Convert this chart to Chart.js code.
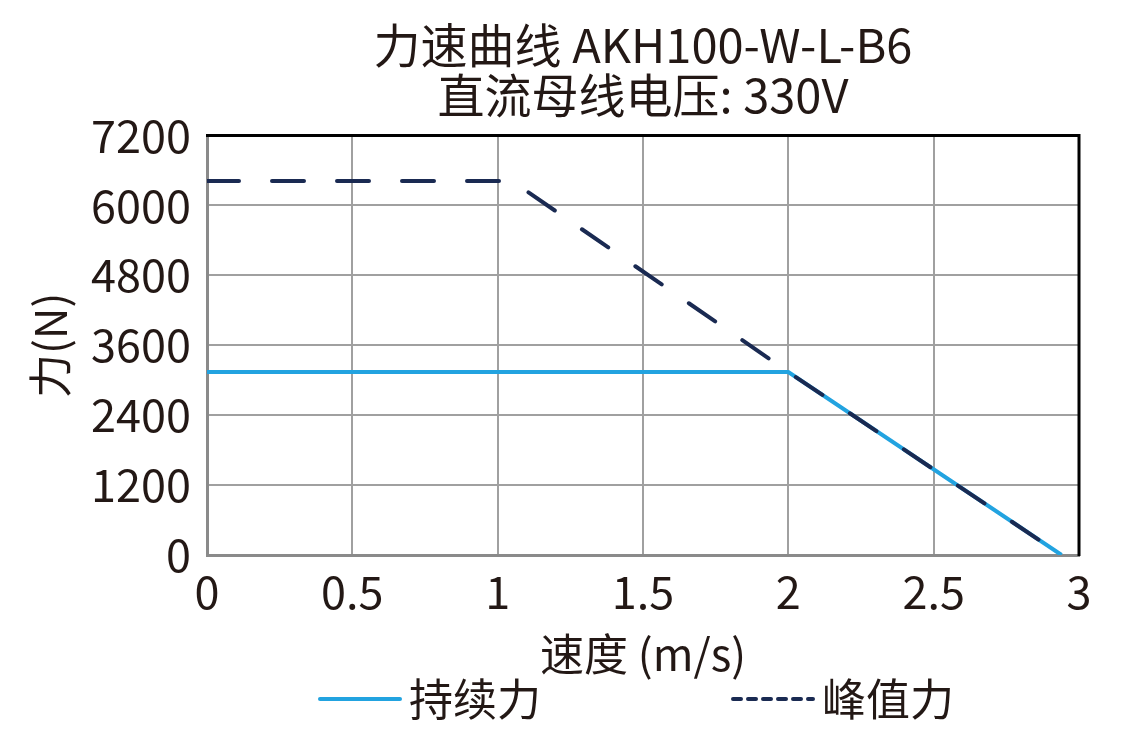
<!DOCTYPE html>
<html>
<head>
<meta charset="utf-8">
<script src="https://cdn.jsdelivr.net/npm/chart.js@4/dist/chart.umd.min.js"></script>
<style>
  html, body { margin: 0; padding: 0; background: #fff; }
  #wrap { width: 1131px; height: 751px; }
</style>
</head>
<body>
<div id="wrap"><canvas id="forceChart" width="1131" height="751"></canvas></div>
<script>
// data
var speedCont = [0, 2, 2.94];
var forceCont = [3140, 3140, 0];
var speedPeak = [0, 1.05, 2, 2.94];
var forcePeak = [6420, 6420, 3140, 0];
var seriesNames = ["持续力", "峰值力"];
var titleLines = ["力速曲线 AKH100-W-L-B6", "直流母线电压: 330V"];

var txtColor = "#231815";
var blue = "#22a3e0";
var navy = "#1a2a52";
var fontFam = "'Noto Sans CJK SC', 'Noto Sans', sans-serif";

function toPoints(xs, ys){
    var pts = [];
    for(i=0;i<xs.length;i++){
        pts.push({x: xs[i], y: ys[i]});
    }
    return pts;
}

// black frame on top and right side of plot
const frameLines = {
    id: "frameLines",
    afterLayout(chart){
        // center the title over the plot instead of the canvas
        const t = chart.titleBlock;
        if(t){
            t.left = chart.chartArea.left;
            t.right = chart.chartArea.right;
            t.width = t.right - t.left;
        }
    },
    afterDraw(chart){
        const a = chart.chartArea;
        const ctx = chart.ctx;
        ctx.save();
        ctx.strokeStyle = "#000";
        ctx.lineWidth = 3;
        ctx.beginPath();
        ctx.moveTo(a.left - 1, a.top);
        ctx.lineTo(a.right, a.top);
        ctx.lineTo(a.right, a.bottom + 1);
        ctx.stroke();
        ctx.restore();
    }
};

// legend under the axis title: line sample, small gap, label
const lineLegend = {
    id: "lineLegend",
    afterDraw(chart){
        const a = chart.chartArea;
        const ctx = chart.ctx;
        const sample = 84, gap = 7, itemGap = 190;
        const y = 699;
        ctx.save();
        ctx.font = "44px " + fontFam;
        var widths = [];
        var total = 0;
        chart.data.datasets.forEach(function(ds, i){
            var w = ctx.measureText(ds.label).width;
            widths.push(w);
            total += sample + gap + w;
            if(i > 0) total += itemGap;
        });
        var x = (a.left + a.right) / 2 - 7 - total / 2;
        chart.data.datasets.forEach(function(ds, i){
            ctx.strokeStyle = ds.borderColor;
            ctx.lineWidth = 4;
            ctx.lineCap = "round";
            ctx.setLineDash(i == 1 ? [8, 7] : []);
            ctx.beginPath();
            ctx.moveTo(x + 2, y);
            ctx.lineTo(x + sample - 2, y);
            ctx.stroke();
            ctx.setLineDash([]);
            ctx.fillStyle = txtColor;
            ctx.textBaseline = "middle";
            ctx.textAlign = "left";
            ctx.fillText(ds.label, x + sample + gap, y);
            x += sample + gap + widths[i] + itemGap;
        });
        ctx.restore();
    }
};

const ctx = document.getElementById("forceChart").getContext("2d");
new Chart(ctx, {
    type: "line",
    data: {
        datasets: [
            {
                label: seriesNames[0],
                data: toPoints(speedCont, forceCont),
                borderColor: blue,
                borderWidth: 4,
                pointRadius: 0,
                tension: 0,
                order: 1
            },
            {
                label: seriesNames[1],
                data: toPoints(speedPeak, forcePeak),
                borderColor: navy,
                borderWidth: 4,
                borderDash: [32, 33],
                borderCapStyle: "round",
                pointRadius: 0,
                tension: 0,
                order: 0
            }
        ]
    },
    plugins: [frameLines, lineLegend],
    options: {
        responsive: false,
        animation: false,
        layout: { padding: { left: 20, right: 52, top: 0, bottom: 70 } },
        plugins: {
            tooltip: { enabled: false },
            legend: { display: false },
            title: {
                display: true,
                text: titleLines,
                color: txtColor,
                font: { family: fontFam, size: 47, weight: "normal", lineHeight: 1.07 },
                padding: { top: 20, bottom: 15 }
            }
        },
        scales: {
            x: {
                type: "linear",
                min: 0,
                max: 3,
                afterFit: function(scale){ scale.height = 751 - 70 - 555; },
                ticks: {
                    stepSize: 0.5,
                    color: txtColor,
                    font: { family: fontFam, size: 45 },
                    padding: 10,
                    maxRotation: 0,
                    callback: function(value){ return String(value); }
                },
                grid: { color: "#a0a0a0", lineWidth: 2, drawTicks: false },
                border: { color: "#8a8a8a", width: 3 },
                title: {
                    display: true,
                    text: "速度 (m/s)",
                    color: txtColor,
                    font: { family: fontFam, size: 44 },
                    padding: { top: 0, bottom: 0 }
                }
            },
            y: {
                min: 0,
                max: 7200,
                afterFit: function(scale){ scale.width = 207 - 20; },
                ticks: {
                    stepSize: 1200,
                    autoSkip: false,
                    color: txtColor,
                    font: { family: fontFam, size: 45 },
                    padding: 16,
                    callback: function(value){ return String(value); }
                },
                grid: { color: "#a0a0a0", lineWidth: 2, drawTicks: false },
                border: { color: "#8a8a8a", width: 3 },
                title: {
                    display: true,
                    text: "力(N)",
                    color: txtColor,
                    font: { family: fontFam, size: 44 },
                    padding: { top: 4, bottom: 0 }
                }
            }
        }
    }
});
</script>
</body>
</html>
